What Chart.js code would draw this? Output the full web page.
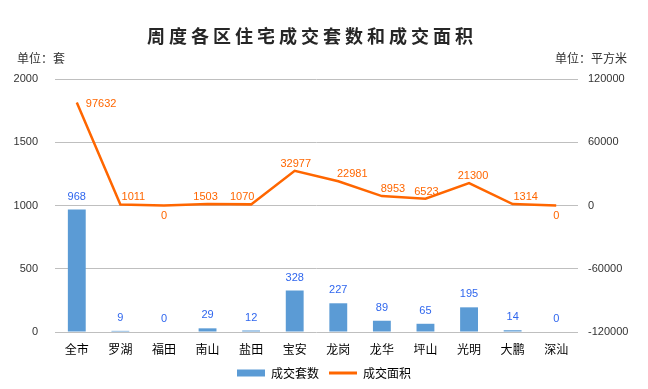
<!DOCTYPE html>
<html>
<head>
<meta charset="utf-8">
<script src="https://cdn.jsdelivr.net/npm/chart.js@4/dist/chart.umd.min.js"></script>
<style>
  html, body { margin: 0; padding: 0; background: #fff; }
  #wrap { width: 648px; height: 389px; }
</style>
</head>
<body>
<div id="wrap"><canvas id="chart"></canvas></div>
<script>
const districts = ['全市', '罗湖', '福田', '南山', '盐田', '宝安', '龙岗', '龙华', '坪山', '光明', '大鹏', '深汕'];
const dealUnits = [968, 9, 0, 29, 12, 328, 227, 89, 65, 195, 14, 0];
const dealArea = [97632, 1011, 0, 1503, 1070, 32977, 22981, 8953, 6523, 21300, 1314, 0];
const leftTicks = [0, 500, 1000, 1500, 2000];
const rightTicks = [-120000, -60000, 0, 60000, 120000];

// label placement for the area line (nudges like the original)
const areaLabelPos = ['right', 'above', 'below', 'above', 'above', 'above', 'above', 'above', 'above', 'above', 'above', 'below'];
const areaLabelDx = [0, 13, 0, -2, -9, 1, 14, 11, 1, 4, 13, 0];

const CJK = '"Noto Sans CJK SC", sans-serif';
const NUM = '"Liberation Sans", Arial, sans-serif';

const headerPlugin = {
  id: 'header',
  afterDraw(chart) {
    const ctx = chart.ctx;
    ctx.save();
    ctx.fillStyle = '#262626';
    ctx.font = 'bold 18px ' + CJK;
    ctx.letterSpacing = '4px';
    ctx.textAlign = 'left';
    ctx.textBaseline = 'middle';
    ctx.fillText('周度各区住宅成交套数和成交面积', 147, 36);
    ctx.letterSpacing = '0px';
    ctx.font = '12px ' + CJK;
    ctx.fillStyle = '#333';
    ctx.fillText('单位：套', 17, 58);
    ctx.textAlign = 'right';
    ctx.fillText('单位：平方米', 627, 58);
    ctx.restore();
  }
};

const valueLabels = {
  id: 'valueLabels',
  afterDatasetsDraw(chart) {
    const ctx = chart.ctx;
    ctx.save();
    ctx.font = '11px ' + NUM;
    ctx.textBaseline = 'middle';

    const barMeta = chart.getDatasetMeta(0);
    ctx.fillStyle = '#2f66ee';
    ctx.textAlign = 'center';
    barMeta.data.forEach((bar, i) => {
      ctx.fillText(String(dealUnits[i]), bar.x, bar.y - 13);
    });

    const lineMeta = chart.getDatasetMeta(1);
    ctx.fillStyle = '#ff6600';
    lineMeta.data.forEach((pt, i) => {
      const pos = areaLabelPos[i];
      const txt = String(dealArea[i]);
      if (pos === 'right') {
        ctx.textAlign = 'left';
        ctx.fillText(txt, pt.x + 9, pt.y + 1);
      } else if (pos === 'below') {
        ctx.textAlign = 'center';
        ctx.fillText(txt, pt.x + areaLabelDx[i], pt.y + 10);
      } else {
        ctx.textAlign = 'center';
        ctx.fillText(txt, pt.x + areaLabelDx[i], pt.y - 7);
      }
    });
    ctx.restore();
  }
};

new Chart(document.getElementById('chart'), {
  type: 'bar',
  data: {
    labels: districts,
    datasets: [
      {
        label: '成交套数',
        data: dealUnits,
        backgroundColor: '#5b9bd5',
        yAxisID: 'y',
        categoryPercentage: 1,
        barPercentage: 0.41,
        order: 1
      },
      {
        type: 'line',
        label: '成交面积',
        data: dealArea,
        borderColor: '#ff6600',
        backgroundColor: '#ff6600',
        borderWidth: 2.5,
        pointRadius: 0,
        tension: 0,
        yAxisID: 'y1',
        order: 0
      }
    ]
  },
  options: {
    responsive: true,
    maintainAspectRatio: false,
    animation: false,
    layout: { padding: { top: 79, left: 0, right: 0, bottom: 0 } },
    plugins: {
      title: { display: false },
      tooltip: { enabled: false },
      legend: {
        display: true,
        position: 'bottom',
        labels: {
          usePointStyle: true,
          pointStyleWidth: 28,
          boxHeight: 7,
          padding: 10,
          color: '#333',
          font: { family: CJK, size: 12 },
          generateLabels(chart) {
            return chart.data.datasets.map((ds, i) => ({
              text: ds.label,
              fillStyle: ds.backgroundColor,
              strokeStyle: ds.type === 'line' ? ds.borderColor : ds.backgroundColor,
              lineWidth: ds.type === 'line' ? 3 : 0,
              pointStyle: ds.type === 'line' ? 'line' : 'rect',
              hidden: false,
              datasetIndex: i
            }));
          }
        }
      }
    },
    scales: {
      x: {
        grid: { display: false, drawTicks: false },
        border: { display: false },
        ticks: { color: '#000', font: { family: CJK, size: 12 }, padding: 10 },
        afterFit(scale) { scale.height = 25; }
      },
      y: {
        position: 'left',
        min: 0,
        max: 2000,
        grid: { color: '#bfbfbf', lineWidth: 1, drawTicks: false },
        border: { display: false },
        afterBuildTicks(scale) { scale.ticks = leftTicks.map(v => ({ value: v })); },
        ticks: {
          color: '#333',
          font: { family: NUM, size: 11 },
          padding: 17,
          callback: (value) => String(value)
        },
        afterFit(scale) { scale.width = 55; }
      },
      y1: {
        position: 'right',
        min: -120000,
        max: 120000,
        grid: { display: false, drawTicks: false },
        border: { display: false },
        afterBuildTicks(scale) { scale.ticks = rightTicks.map(v => ({ value: v })); },
        ticks: {
          color: '#333',
          font: { family: NUM, size: 11 },
          padding: 10,
          callback: (value) => String(value)
        },
        afterFit(scale) { scale.width = 70; }
      }
    }
  },
  plugins: [headerPlugin, valueLabels]
});
</script>
</body>
</html>
